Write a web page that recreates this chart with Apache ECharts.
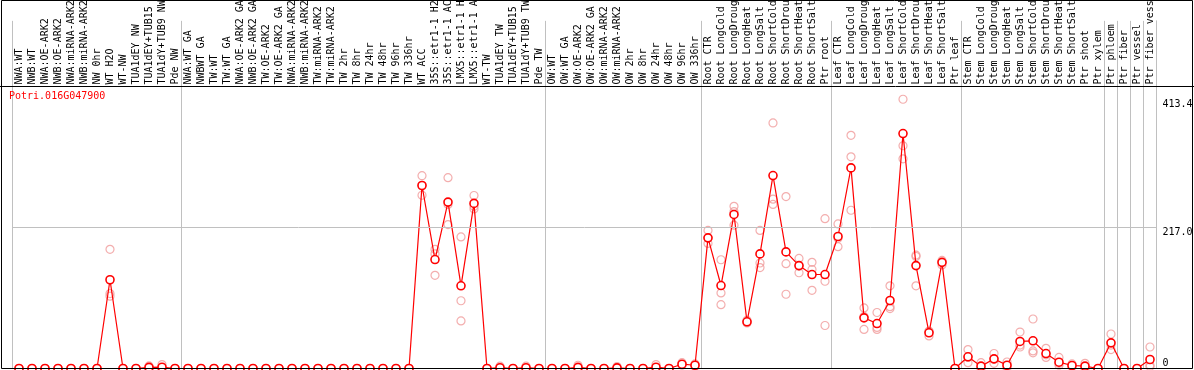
<!DOCTYPE html>
<html>
<head>
<meta charset="utf-8">
<script src="https://cdn.jsdelivr.net/npm/echarts@6/dist/echarts.min.js"></script>
<style>
html,body{margin:0;padding:0;background:#fff;}
#chart{width:1194px;height:370px;}
</style>
</head>
<body>
<div id="chart"></div>
<script>
// ---- data ----
var geneId = 'Potri.016G047900';
var categories = [
 'NWA:WT','NWB:WT','NWA:OE-ARK2','NWB:OE-ARK2','NWA:miRNA-ARK2','NWB:miRNA-ARK2','NW 0hr','WT H2O','WT-NW','TUA1dEY NW','TUA1dEY+TUB15 NW','TUA1dY+TUB9 NW','Pde NW',
 'NWA:WT GA','NWBWT GA','TW:WT','TW:WT GA','NWA:OE-ARK2 GA','NWB:OE-ARK2 GA','TW:OE-ARK2','TW:OE-ARK2 GA','NWA:miRNA-ARK2','NWB:miRNA-ARK2','TW:miRNA-ARK2','TW:miRNA-ARK2',
 'TW 2hr','TW 8hr','TW 24hr','TW 48hr','TW 96hr','TW 336hr','WT ACC','35S::etr1-1 H2O','35S::etr1-1 ACC','LMX5::etr1-1 H2O','LMX5::etr1-1 ACC','WT-TW','TUA1dEY TW','TUA1dEY+TUB15 TW','TUA1dY+TUB9 TW','Pde TW',
 'OW:WT','OW:WT GA','OW:OE-ARK2','OW:OE-ARK2 GA','OW:miRNA-ARK2','OW:miRNA-ARK2','OW 2hr','OW 8hr','OW 24hr','OW 48hr','OW 96hr','OW 336hr',
 'Root CTR','Root LongCold','Root LongDrought','Root LongHeat','Root LongSalt','Root ShortCold','Root ShortDrought','Root ShortHeat','Root ShortSalt','Ptr root',
 'Leaf CTR','Leaf LongCold','Leaf LongDrought','Leaf LongHeat','Leaf LongSalt','Leaf ShortCold','Leaf ShortDrought','Leaf ShortHeat','Leaf ShortSalt','Ptr leaf',
 'Stem CTR','Stem LongCold','Stem LongDrought','Stem LongHeat','Stem LongSalt','Stem ShortCold','Stem ShortDrought','Stem ShortHeat','Stem ShortSalt','Ptr shoot',
 'Ptr xylem','Ptr phloem','Ptr fiber','Ptr vessel','Ptr fiber vessel'
];
// indices of the first category of each group (vertical separators), plus the end
var groupStarts = [0, 13, 41, 53, 63, 73, 84, 85, 86, 87, 88];

var means = [
 0,0,0,0,0,0,0,136.3,0,0,1.7,2,0,
 0,0,0,0,0,0,0,0,0,0,0,0,0,0,0,0,0,0,281,167.3,255.5,127,253.5,0,1.2,0,1.2,0,
 0,0,1.7,0,0,1,0,0,2,0,6.6,5,
 200.6,127.4,236.5,71.7,176,296.3,179,158,144.3,144.3,
 202.7,308,77.8,69,104.4,360.8,158,54.8,163,0,
 18,3.6,14.8,5,41.5,42.5,23,9.7,4.6,3.6,
 0,39.4,0,0,13.8
];
var rep1 = [
 0,0,0,0,0,0,0,183,0,0,4,6,0,
 0,0,0,0,0,0,0,0,0,0,0,0,0,0,0,0,0,0,296,183,293,202,265.6,0,3.5,0,3.5,0,
 0,0,5,0,0,3,0,0,6,0,9,7,
 212,167,249,74,212,377,264,169,163,230,
 222,358,93,86,127,413.4,174,57,166,0,
 29,9,23,10,56,76,31,17,7,8,
 0,53,0,0,33
];
var rep2 = [
 0,0,0,0,0,0,0,115,0,0,1,0,0,
 0,0,0,0,0,0,0,0,0,0,0,0,0,0,0,0,0,0,281,176,252,104,249,0,0,0,0,0,
 0,0,0,0,0,0,0,0,0,0,6,5,
 200,116,241,71,162,260,161,157,152,134,
 200,325,80,63,95,342,172,57,163,0,
 17,2,14,4,36,27,21,8,4,3,
 0,36,0,0,5
];
var rep3 = [
 0,0,0,0,0,0,0,111,0,0,0,0,0,
 0,0,0,0,0,0,0,0,0,0,0,0,0,0,0,0,0,0,266,143,221,73,245,0,0,0,0,0,
 0,0,0,0,0,0,0,0,0,0,5,3,
 192,98,220,70,155,252,114,147,120,66,
 187,243,60,60,92,322,127,50,159,0,
 9,0,8,1,33,24,17,5,3,0,
 0,29,0,0,3
];
var yTickValues = [0, 217.0, 413.4];
var yTickLabels = ['0', '217.0', '413.4'];

// ---- chart ----
var chart = echarts.init(document.getElementById('chart'), null, {renderer: 'canvas'});
var MONO = 'DejaVu Sans Mono';
var GRID_LEFT = 12.5, GRID_W = 1144;
var SEP = '#c0c0c0';
function sepInterval(index) { return groupStarts.indexOf(index) >= 0; }

var repSeries = [rep1, rep2, rep3].map(function (r) {
  return {
    type: 'scatter', xAxisIndex: 1, yAxisIndex: 1, data: r,
    symbol: 'circle', symbolSize: 8,
    itemStyle: {color: 'rgba(0,0,0,0)', borderColor: '#f09a9a', borderWidth: 1.2},
    silent: true, z: 2
  };
});

var markData = yTickValues.map(function (v, i) {
  var first = i === 0;
  return {
    yAxis: v,
    lineStyle: {color: v === 217.0 ? SEP : 'rgba(0,0,0,0)', width: 1, type: 'solid'},
    label: {
      show: true, position: 'end', distance: 6,
      formatter: yTickLabels[i],
      color: '#000', fontFamily: MONO, fontSize: 10,
      verticalAlign: first ? 'bottom' : 'top'
    }
  };
});

chart.setOption({
  animation: false,
  title: {
    text: geneId, left: 9, top: 91, padding: 0,
    textStyle: {color: '#ff0000', fontFamily: MONO, fontSize: 10, fontWeight: 'normal'}
  },
  grid: [
    {left: GRID_LEFT, width: GRID_W, top: 0, height: 86.5},
    {left: GRID_LEFT, width: GRID_W, top: 86.5, height: 282}
  ],
  xAxis: [
    {
      type: 'category', gridIndex: 0, data: categories, position: 'bottom', boundaryGap: true,
      axisLine: {show: false}, axisTick: {show: false},
      axisLabel: {show: true, inside: true, rotate: 90, interval: 0, margin: 2,
        color: '#000', fontFamily: MONO, fontSize: 10},
      splitLine: {show: true, interval: sepInterval, lineStyle: {color: SEP, width: 1}}
    },
    {
      type: 'category', gridIndex: 1, data: categories, position: 'bottom', boundaryGap: true,
      axisLine: {show: true, lineStyle: {color: '#000', width: 1}}, axisTick: {show: false},
      axisLabel: {show: false},
      splitLine: {show: true, interval: sepInterval, lineStyle: {color: SEP, width: 1}}
    }
  ],
  yAxis: [
    {type: 'value', gridIndex: 0, position: 'right', min: 0, max: 1,
      axisLine: {show: true, lineStyle: {color: SEP, width: 1}}, axisTick: {show: false},
      axisLabel: {show: false}, splitLine: {show: false}},
    {type: 'value', gridIndex: 1, position: 'right', min: 0, max: 433,
      axisLine: {show: true, lineStyle: {color: SEP, width: 1}}, axisTick: {show: false},
      axisLabel: {show: false}, splitLine: {show: false}}
  ],
  series: repSeries.concat([{
    type: 'line', xAxisIndex: 1, yAxisIndex: 1, data: means,
    symbol: 'circle', symbolSize: 8, showSymbol: true, clip: false,
    lineStyle: {color: '#ff0000', width: 1.2},
    itemStyle: {color: '#ffffff', borderColor: '#ff0000', borderWidth: 1.6},
    markLine: {silent: true, symbol: ['none', 'none'], animation: false, data: markData},
    z: 3
  }]),
  graphic: [
    {type: 'rect', z: 100, silent: true,
      shape: {x: 1.5, y: 0.5, width: 1191, height: 368},
      style: {fill: null, stroke: '#000', lineWidth: 1}},
    {type: 'line', z: 100, silent: true,
      shape: {x1: 0, y1: 86.5, x2: 1194, y2: 86.5},
      style: {stroke: '#000', lineWidth: 1}}
  ]
});
</script>
</body>
</html>
